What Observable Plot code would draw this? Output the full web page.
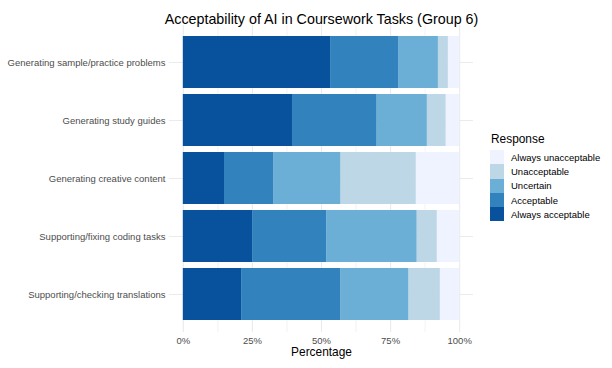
<!DOCTYPE html>
<html>
<head>
<meta charset="utf-8">
<script src="https://cdn.jsdelivr.net/npm/d3@7"></script>
<script src="https://cdn.jsdelivr.net/npm/@observablehq/plot@0.6"></script>
<style>
  html, body { margin: 0; padding: 0; background: #fff; }
  #wrap { position: relative; width: 612px; height: 368px; font-family: "Liberation Sans", Arial, Helvetica, sans-serif; }
  #legend { position: absolute; left: 490px; top: 132px; font-family: "Liberation Sans", Arial, Helvetica, sans-serif; }
  #legend .title { font-size: 11.9px; color: #000; margin-left: 1px; height: 18px; line-height: 14px; }
  #legend .row { display: flex; align-items: center; height: 14.3px; }
  #legend .sw { width: 14px; height: 14.3px; }
  #legend .lab { font-size: 9.5px; color: #000; margin-left: 7px; }
</style>
</head>
<body>
<div id="wrap"><div id="legend"></div></div>
<script>
const tasks = [
  "Generating sample/practice problems",
  "Generating study guides",
  "Generating creative content",
  "Supporting/fixing coding tasks",
  "Supporting/checking translations"
];
const responses = ["Always unacceptable", "Unacceptable", "Uncertain", "Acceptable", "Always acceptable"];
const colors = ["#eff3ff", "#bdd7e7", "#6baed6", "#3182bd", "#08519c"];
const alwaysAcceptable   = [53.3, 39.5, 14.9, 25.1, 21.1];
const acceptable         = [24.6, 30.6, 17.8, 26.8, 35.9];
const uncertain          = [14.4, 18.2, 24.3, 32.7, 24.6];
const unacceptable       = [3.6, 6.8, 27.3, 7.3, 11.4];
const alwaysUnacceptable = [4.1, 4.9, 15.7, 8.1, 7.0];
const xTicks = [0, 25, 50, 75, 100];
const xMinorTicks = [12.5, 37.5, 62.5, 87.5];
const titleText = "Acceptability of AI in Coursework Tasks (Group 6)";
const xLabel = "Percentage";
const legendTitle = "Response";

const seriesByResponse = {
  "Always unacceptable": alwaysUnacceptable,
  "Unacceptable": unacceptable,
  "Uncertain": uncertain,
  "Acceptable": acceptable,
  "Always acceptable": alwaysAcceptable
};
const data = [];
tasks.forEach((t, i) => {
  responses.forEach(r => data.push({task: t, response: r, value: seriesByResponse[r][i]}));
});
const stackOrder = responses.slice().reverse();
const font = "'Liberation Sans', Arial, Helvetica, sans-serif";

const chart = Plot.plot({
  width: 612,
  height: 368,
  marginLeft: 169,
  marginRight: 139,
  marginTop: 25,
  marginBottom: 36,
  style: {fontFamily: font, background: "#fff"},
  x: {domain: [-5, 105]},
  y: {domain: tasks, paddingInner: 0.1, paddingOuter: 0.152},
  color: {domain: responses, range: colors},
  marks: [
    Plot.ruleX(xMinorTicks, {stroke: "#ebebeb", strokeWidth: 0.6}),
    Plot.ruleX(xTicks, {stroke: "#ebebeb", strokeWidth: 1.1}),
    Plot.gridY({stroke: "#ebebeb", strokeOpacity: 1, strokeWidth: 1.1}),
    Plot.barX(data, Plot.stackX({x: "value", y: "task", fill: "response", order: stackOrder})),
    Plot.axisX({ticks: xTicks, tickSize: 0, tickPadding: 4.5, tickFormat: d => d + "%", fontSize: 9.5, fill: "#4d4d4d", label: null}),
    Plot.axisY({tickSize: 0, tickPadding: 4, fontSize: 9.5, fill: "#4d4d4d", label: null}),
    Plot.text([titleText], {text: d => d, frameAnchor: "top", dy: -12, fontSize: 14.3, fill: "#000"}),
    Plot.text([xLabel], {text: d => d, frameAnchor: "bottom", dy: 23, fontSize: 11.9, fill: "#000"})
  ]
});
const wrap = document.getElementById("wrap");
wrap.insertBefore(chart, wrap.firstChild);

const legend = document.getElementById("legend");
const lt = document.createElement("div");
lt.className = "title";
lt.textContent = legendTitle;
legend.appendChild(lt);
responses.forEach((r, i) => {
  const row = document.createElement("div");
  row.className = "row";
  const sw = document.createElement("div");
  sw.className = "sw";
  sw.style.background = colors[i];
  const lab = document.createElement("div");
  lab.className = "lab";
  lab.textContent = r;
  row.appendChild(sw);
  row.appendChild(lab);
  legend.appendChild(row);
});
</script>
</body>
</html>
